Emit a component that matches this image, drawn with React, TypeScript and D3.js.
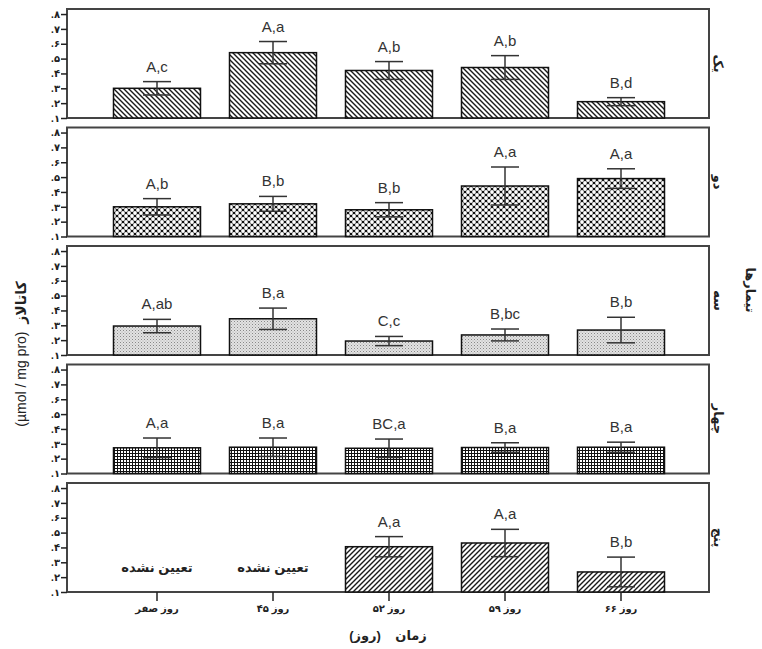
import React, { useEffect, useRef } from "react";
import * as d3 from "d3";

// categories (x axis) and treatments (panels)
const days = ["روز صفر", "روز ۴۵", "روز ۵۲", "روز ۵۹", "روز ۶۶"];
const treatments = ["یک", "دو", "سه", "چهار", "پنج"];

// catalase means, standard errors and letters, one array per treatment
const means1 = [0.3, 0.54, 0.42, 0.44, 0.21];
const errs1 = [0.045, 0.075, 0.06, 0.08, 0.027];
const letters1 = ["A,c", "A,a", "A,b", "A,b", "B,d"];

const means2 = [0.3, 0.32, 0.28, 0.44, 0.49];
const errs2 = [0.055, 0.05, 0.048, 0.128, 0.066];
const letters2 = ["A,b", "B,b", "B,b", "A,a", "A,a"];

const means3 = [0.295, 0.344, 0.194, 0.235, 0.268];
const errs3 = [0.045, 0.072, 0.031, 0.04, 0.086];
const letters3 = ["A,ab", "B,a", "C,c", "B,bc", "B,b"];

const means4 = [0.273, 0.277, 0.27, 0.275, 0.277];
const errs4 = [0.066, 0.062, 0.062, 0.032, 0.034];
const letters4 = ["A,a", "B,a", "BC,a", "B,a", "B,a"];

const means5 = [null, null, 0.405, 0.43, 0.235];
const errs5 = [null, null, 0.068, 0.092, 0.1];
const letters5 = ["", "", "A,a", "A,a", "B,b"];

const yTicks = [0.1, 0.2, 0.3, 0.4, 0.5, 0.6, 0.7, 0.8];
const yTickLabels = [".۱", ".۲", ".۳", ".۴", ".۵", ".۶", ".۷", ".۸"];
const notDetermined = "تعیین نشده";

const panels = [
  { name: treatments[0], means: means1, errs: errs1, letters: letters1, fill: "url(#hatchBack)" },
  { name: treatments[1], means: means2, errs: errs2, letters: letters2, fill: "url(#lattice)" },
  { name: treatments[2], means: means3, errs: errs3, letters: letters3, fill: "url(#stipple)" },
  { name: treatments[3], means: means4, errs: errs4, letters: letters4, fill: "url(#grid)" },
  { name: treatments[4], means: means5, errs: errs5, letters: letters5, fill: "url(#hatchFwd)" },
];

const W = 762;
const H = 649;
const FONT = "'Liberation Sans', 'DejaVu Sans', sans-serif";

export default function App() {
  const ref = useRef<SVGSVGElement>(null);

  useEffect(() => {
    const svg = d3.select(ref.current);
    svg.selectAll("*").remove();

    const left = 67;
    const right = 709;
    const top0 = 9;
    const panelH = 109;
    const step = 118.5;

    // patterns
    const defs = svg.append("defs");
    const hb = defs.append("pattern").attr("id", "hatchBack").attr("patternUnits", "userSpaceOnUse")
      .attr("width", 5).attr("height", 5);
    hb.append("rect").attr("width", 5).attr("height", 5).attr("fill", "#fff");
    hb.append("path").attr("d", "M-1,-1L6,6M-1,4L1,6M4,-1L6,1").attr("stroke", "#1a1a1a").attr("stroke-width", 1.4);

    const hf = defs.append("pattern").attr("id", "hatchFwd").attr("patternUnits", "userSpaceOnUse")
      .attr("width", 5).attr("height", 5);
    hf.append("rect").attr("width", 5).attr("height", 5).attr("fill", "#fff");
    hf.append("path").attr("d", "M-1,6L6,-1M-1,1L1,-1M4,6L6,4").attr("stroke", "#1a1a1a").attr("stroke-width", 1.4);

    const lat = defs.append("pattern").attr("id", "lattice").attr("patternUnits", "userSpaceOnUse")
      .attr("width", 6).attr("height", 6);
    lat.append("rect").attr("width", 6).attr("height", 6).attr("fill", "#111");
    [[0, 0], [6, 0], [0, 6], [6, 6], [3, 3]].forEach(([cx, cy]) =>
      lat.append("circle").attr("cx", cx).attr("cy", cy).attr("r", 1.9).attr("fill", "#fff"));

    const st = defs.append("pattern").attr("id", "stipple").attr("patternUnits", "userSpaceOnUse")
      .attr("width", 3).attr("height", 3);
    st.append("rect").attr("width", 3).attr("height", 3).attr("fill", "#e2e2e2");
    st.append("rect").attr("width", 1).attr("height", 1).attr("fill", "#888");
    st.append("rect").attr("x", 1.5).attr("y", 1.5).attr("width", 1).attr("height", 1).attr("fill", "#aaa");

    const gr = defs.append("pattern").attr("id", "grid").attr("patternUnits", "userSpaceOnUse")
      .attr("width", 3).attr("height", 3);
    gr.append("rect").attr("width", 3).attr("height", 3).attr("fill", "#fff");
    gr.append("path").attr("d", "M0,0.5H3M0.5,0V3").attr("stroke", "#111").attr("stroke-width", 1);

    const x = d3.scaleBand<string>().domain(days).range([99, 679]).paddingInner(0.25).paddingOuter(0.125);

    panels.forEach((p, i) => {
      const top = top0 + i * step;
      const bottom = top + panelH;
      const y = d3.scaleLinear().domain([0.1, 0.834]).range([bottom, top]);
      const g = svg.append("g");

      g.append("rect").attr("x", left).attr("y", top).attr("width", right - left).attr("height", panelH)
        .attr("fill", "#fff").attr("stroke", "#444").attr("stroke-width", 2);

      const yAxis = g.append("g").attr("transform", `translate(${left},0)`)
        .call(d3.axisLeft(y).tickValues(yTicks).tickSize(6).tickPadding(1)
          .tickFormat((d, k) => yTickLabels[k]));
      yAxis.select(".domain").remove();
      yAxis.selectAll("line").attr("stroke", "#222").attr("stroke-width", 1.5);
      yAxis.selectAll("text").attr("font-family", FONT).attr("font-size", 10).attr("font-weight", "bold")
        .attr("fill", "#222").attr("direction", "ltr");

      days.forEach((day, k) => {
        const m = p.means[k];
        const e = p.errs[k];
        const cx = (x(day) as number) + x.bandwidth() / 2;
        if (m == null || e == null) {
          g.append("text").attr("x", cx).attr("y", bottom - 20).attr("text-anchor", "middle")
            .attr("font-family", FONT).attr("font-size", 13).attr("font-weight", "bold")
            .attr("fill", "#222").text(notDetermined);
          return;
        }
        g.append("rect").attr("x", x(day) as number).attr("y", y(m)).attr("width", x.bandwidth())
          .attr("height", bottom - y(m)).attr("fill", p.fill).attr("stroke", "#111").attr("stroke-width", 1.5);
        g.append("line").attr("x1", cx).attr("x2", cx).attr("y1", y(m - e)).attr("y2", y(m + e))
          .attr("stroke", "#333").attr("stroke-width", 1.5);
        [m - e, m + e].forEach((v) =>
          g.append("line").attr("x1", cx - 14).attr("x2", cx + 14).attr("y1", y(v)).attr("y2", y(v))
            .attr("stroke", "#333").attr("stroke-width", 1.5));
        g.append("text").attr("x", cx).attr("y", y(m + e) - 10).attr("text-anchor", "middle")
          .attr("font-family", FONT).attr("font-size", 15).attr("fill", "#333").text(p.letters[k]);
      });

      g.append("text").attr("transform", `translate(718,${(top + bottom) / 2}) rotate(90)`)
        .attr("text-anchor", "middle").attr("dominant-baseline", "central")
        .attr("font-family", FONT).attr("font-size", 13).attr("font-weight", "bold")
        .attr("fill", "#222").text(p.name);

      if (i === panels.length - 1) {
        const xAxis = g.append("g").attr("transform", `translate(0,${bottom})`)
          .call(d3.axisBottom(x).tickSize(9).tickPadding(4));
        xAxis.select(".domain").remove();
        xAxis.selectAll("line").attr("stroke", "#222").attr("stroke-width", 1.5);
        xAxis.selectAll("text").attr("font-family", FONT).attr("font-size", 10).attr("font-weight", "bold")
          .attr("fill", "#222");
      }
    });

    // axis titles
    svg.append("text").attr("x", 388).attr("y", 640).attr("text-anchor", "middle")
      .attr("font-family", FONT).attr("font-size", 13).attr("font-weight", "bold").attr("fill", "#222")
      .text("زمان\u00a0\u00a0\u00a0\u00a0(روز)");

    const yl = svg.append("text").attr("transform", "translate(21,354) rotate(-90)")
      .attr("text-anchor", "middle").attr("dominant-baseline", "central").attr("direction", "ltr")
      .attr("font-family", FONT).attr("font-size", 14).attr("fill", "#222");
    yl.append("tspan").text("(µmol / mg pro)\u00a0\u00a0");
    yl.append("tspan").attr("font-weight", "bold").text("کاتالاز");

    svg.append("text").attr("transform", "translate(750,290) rotate(90)")
      .attr("text-anchor", "middle").attr("dominant-baseline", "central")
      .attr("font-family", FONT).attr("font-size", 13).attr("font-weight", "bold").attr("fill", "#222")
      .text("تیمارها");
  }, []);

  return (
    <svg ref={ref} width={W} height={H} style={{ position: "absolute", left: 0, top: 0, background: "#fff" }} />
  );
}
